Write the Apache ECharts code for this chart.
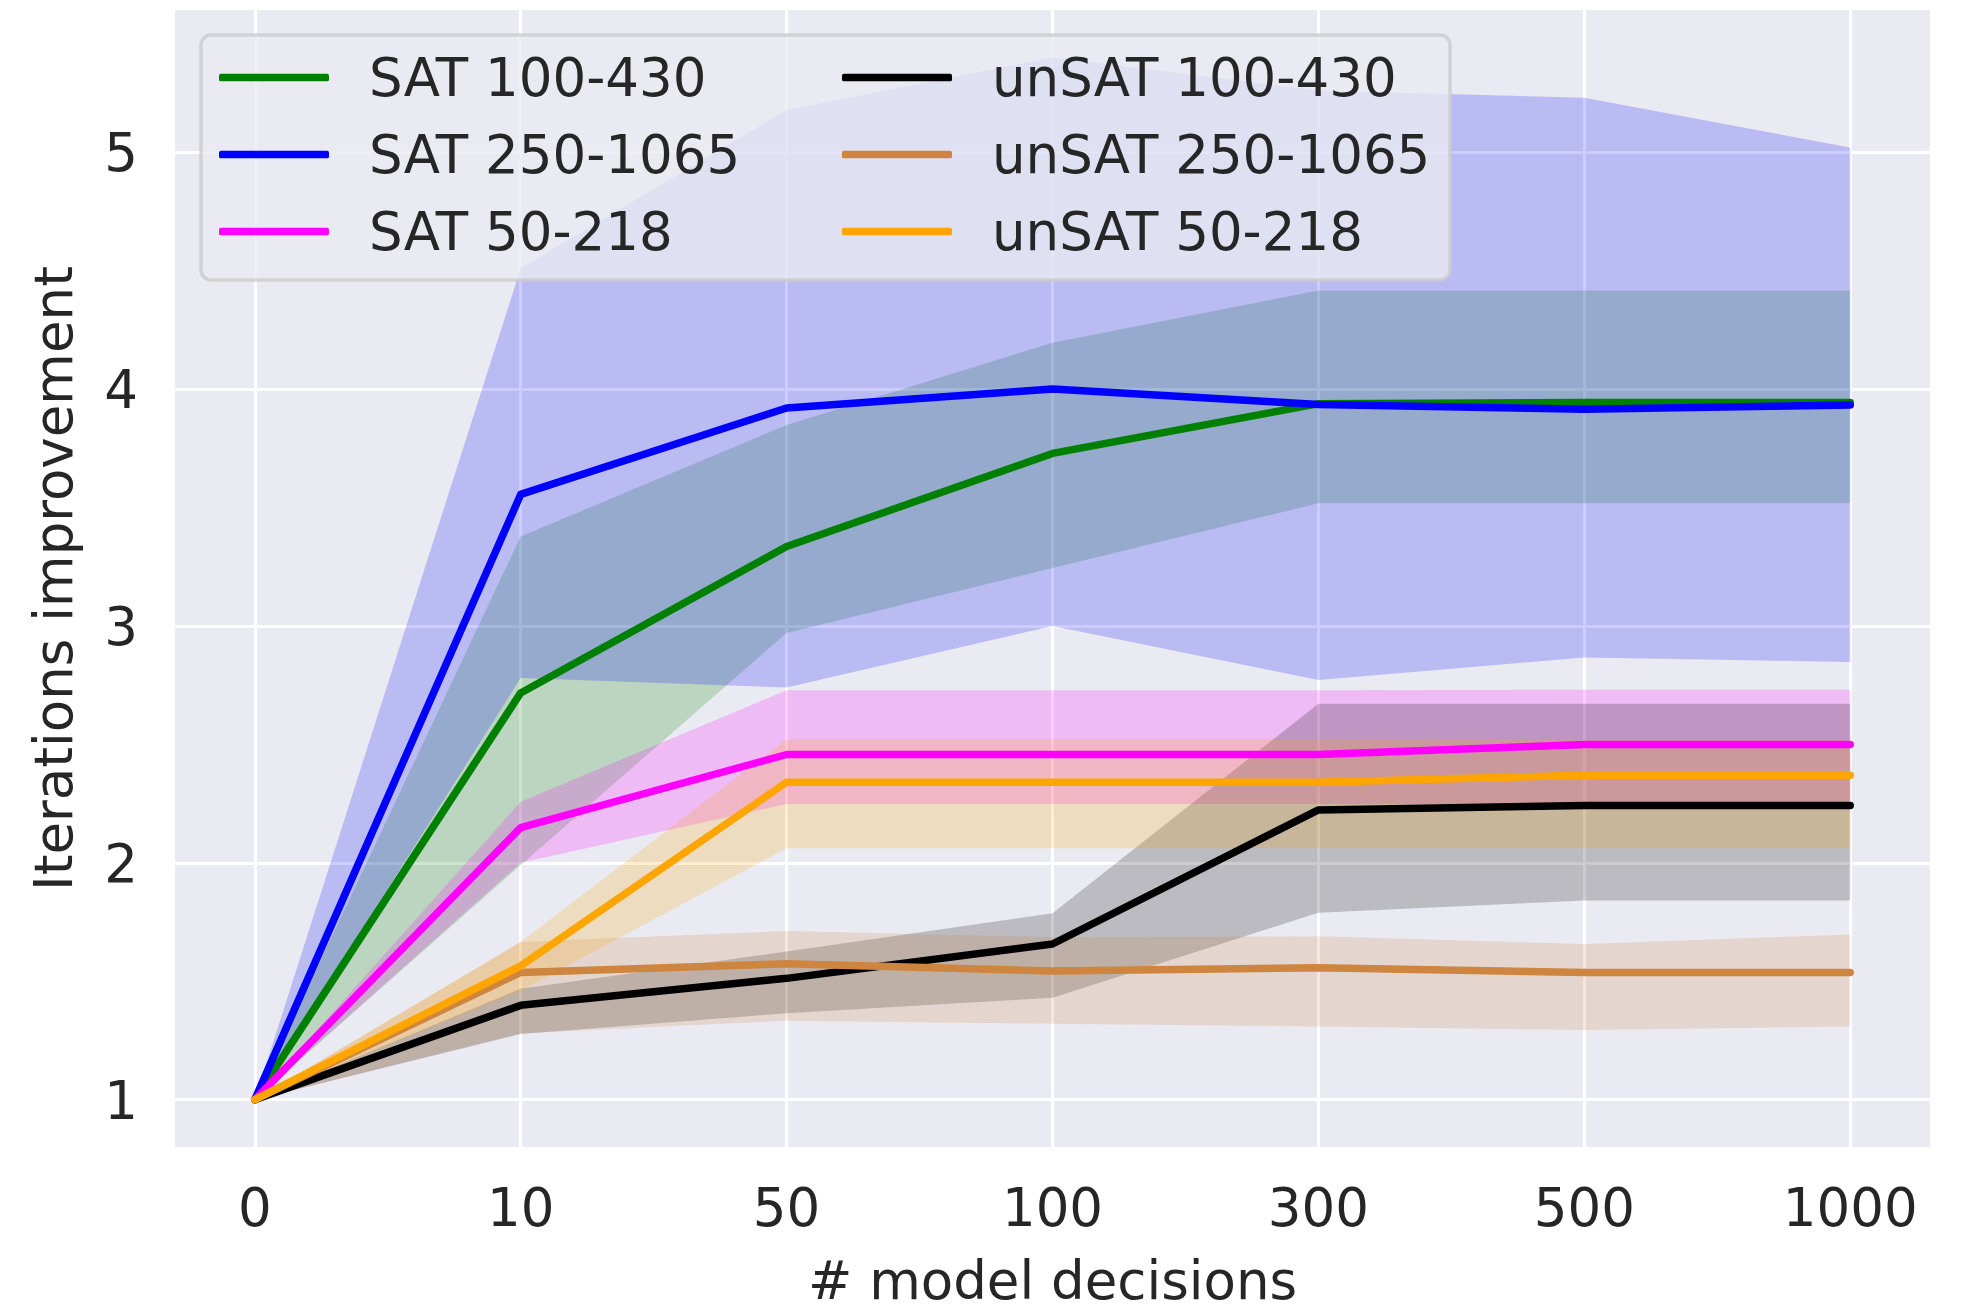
<!DOCTYPE html>
<html>
<head>
<meta charset="utf-8">
<script src="https://cdn.jsdelivr.net/npm/echarts@6/dist/echarts.min.js"></script>
<style>
html,body{margin:0;padding:0;background:#ffffff;}
#chart{width:1965px;height:1308px;}
</style>
</head>
<body>
<div id="chart"></div>
<script>
// ---------- data ----------
const categories = ['0', '10', '50', '100', '300', '500', '1000'];
const yTickValues = [1, 2, 3, 4, 5];

const seriesNames = ['SAT 100-430', 'SAT 250-1065', 'SAT 50-218', 'unSAT 100-430', 'unSAT 250-1065', 'unSAT 50-218'];

const sat100Mean = [1, 2.717, 3.335, 3.728, 3.938, 3.943, 3.943];
const sat100Low  = [1, 1.99, 2.97, 3.244, 3.518, 3.518, 3.518];
const sat100High = [1, 3.377, 3.848, 4.195, 4.416, 4.416, 4.416];

const sat250Mean = [1, 3.555, 3.92, 4.0, 3.935, 3.915, 3.932];
const sat250Low  = [1, 2.78, 2.74, 3.0, 2.772, 2.866, 2.848];
const sat250High = [1, 4.51, 5.178, 5.40, 5.26, 5.23, 5.02];

const sat50Mean = [1, 2.148, 2.457, 2.457, 2.457, 2.499, 2.499];
const sat50Low  = [1, 2.0, 2.248, 2.248, 2.248, 2.248, 2.248];
const sat50High = [1, 2.258, 2.728, 2.728, 2.728, 2.73, 2.73];

const unsat100Mean = [1, 1.398, 1.512, 1.657, 2.223, 2.242, 2.242];
const unsat100Low  = [1, 1.277, 1.365, 1.43, 1.789, 1.841, 1.841];
const unsat100High = [1, 1.468, 1.625, 1.787, 2.671, 2.671, 2.671];

const unsat250Mean = [1, 1.537, 1.574, 1.543, 1.557, 1.537, 1.537];
const unsat250Low  = [1, 1.28, 1.333, 1.32, 1.309, 1.294, 1.309];
const unsat250High = [1, 1.665, 1.712, 1.685, 1.69, 1.657, 1.697];

const unsat50Mean = [1, 1.565, 2.34, 2.34, 2.34, 2.369, 2.369];
const unsat50Low  = [1, 1.46, 2.061, 2.061, 2.061, 2.061, 2.061];
const unsat50High = [1, 1.665, 2.521, 2.521, 2.521, 2.521, 2.521];

// ---------- styling ----------
const colors = ['#008000', '#0000ff', '#ff00ff', '#000000', '#cd853f', '#ffa500'];
const bandColors = ['rgba(0,128,0,0.2)', 'rgba(0,0,255,0.2)', 'rgba(255,0,255,0.2)',
                    'rgba(0,0,0,0.2)', 'rgba(205,133,63,0.2)', 'rgba(255,165,0,0.2)'];
const means = [sat100Mean, sat250Mean, sat50Mean, unsat100Mean, unsat250Mean, unsat50Mean];
const lows  = [sat100Low, sat250Low, sat50Low, unsat100Low, unsat250Low, unsat50Low];
const highs = [sat100High, sat250High, sat50High, unsat100High, unsat250High, unsat50High];

const FONT = 'DejaVu Sans';
const TXT = '#262626';
const xIdx = categories.map((c, i) => i);

function bandSeries(k) {
  const lo = lows[k], hi = highs[k];
  return {
    type: 'custom',
    name: seriesNames[k] + ' band',
    z: 1,
    silent: true,
    data: [[xIdx[0], lo[0]]],
    renderItem: function (params, api) {
      const pts = [];
      for (let i = 0; i < xIdx.length; i++) pts.push(api.coord([xIdx[i], hi[i]]));
      for (let i = xIdx.length - 1; i >= 0; i--) pts.push(api.coord([xIdx[i], lo[i]]));
      return { type: 'polygon', shape: { points: pts }, style: { fill: bandColors[k], stroke: null } };
    }
  };
}

function lineSeries(k) {
  return {
    type: 'line',
    name: seriesNames[k],
    z: 2,
    data: xIdx.map((x, i) => [x, means[k][i]]),
    showSymbol: false,
    symbol: 'none',
    color: colors[k],
    itemStyle: { color: colors[k] },
    lineStyle: { color: colors[k], width: 7.5, cap: 'round', join: 'round' }
  };
}

const series = [];
for (let k = 0; k < 6; k++) series.push(bandSeries(k));
for (let k = 0; k < 6; k++) series.push(lineSeries(k));

const legendText = {
  fontFamily: FONT, fontSize: 53, color: TXT, lineHeight: 53,
  rich: { a: { fontFamily: FONT, fontSize: 53, color: TXT, lineHeight: 53, padding: [10, 0, 0, 35] } }
};

function makeLegend(names, left) {
  return {
    data: names.map(n => ({ name: n, icon: 'roundRect' })),
    formatter: '{a|{name}}',
    orient: 'vertical', left: left, top: 46, padding: 0,
    itemGap: 14, itemWidth: 110, itemHeight: 7.5,
    selectedMode: false, z: 4,
    textStyle: legendText
  };
}

const option = {
  animation: false,
  backgroundColor: '#ffffff',
  grid: {
    left: 175, right: 35, top: 10, bottom: 161,
    show: true, backgroundColor: '#eaeaf2', borderWidth: 0,
    containLabel: false, outerBoundsMode: 'none'
  },
  xAxis: {
    type: 'value', min: -0.3, max: 6.3,
    name: '# model decisions', nameLocation: 'middle', nameGap: 112,
    nameTextStyle: { fontFamily: FONT, fontSize: 53, color: TXT, lineHeight: 53 },
    axisLine: { show: false },
    axisTick: { show: false, customValues: xIdx },
    axisLabel: {
      customValues: xIdx, margin: 39,
      fontFamily: FONT, fontSize: 53, color: TXT, lineHeight: 53,
      formatter: function (v) { return categories[Math.round(v)]; }
    },
    splitLine: { show: true, lineStyle: { color: '#ffffff', width: 3 } }
  },
  yAxis: {
    type: 'value', min: 0.8, max: 5.6,
    name: 'Iterations improvement', nameLocation: 'middle', nameGap: 90, nameRotate: 90,
    nameTextStyle: { fontFamily: FONT, fontSize: 53, color: TXT, lineHeight: 53 },
    axisLine: { show: false },
    axisTick: { show: false, customValues: yTickValues },
    axisLabel: {
      customValues: yTickValues, margin: 37, verticalAlign: 'top',
      fontFamily: FONT, fontSize: 53, color: TXT, lineHeight: 11
    },
    splitLine: { show: true, lineStyle: { color: '#ffffff', width: 3 } }
  },
  graphic: [{
    type: 'rect', z: 3, silent: true,
    shape: { x: 201, y: 35, width: 1249, height: 245, r: 10 },
    style: { fill: 'rgba(234,234,242,0.8)', stroke: 'rgba(204,204,204,0.8)', lineWidth: 3.5 }
  }],
  legend: [makeLegend(seriesNames.slice(0, 3), 219), makeLegend(seriesNames.slice(3, 6), 842)],
  series: series
};

const chart = echarts.init(document.getElementById('chart'), null, { renderer: 'canvas' });
chart.setOption(option);
</script>
</body>
</html>
